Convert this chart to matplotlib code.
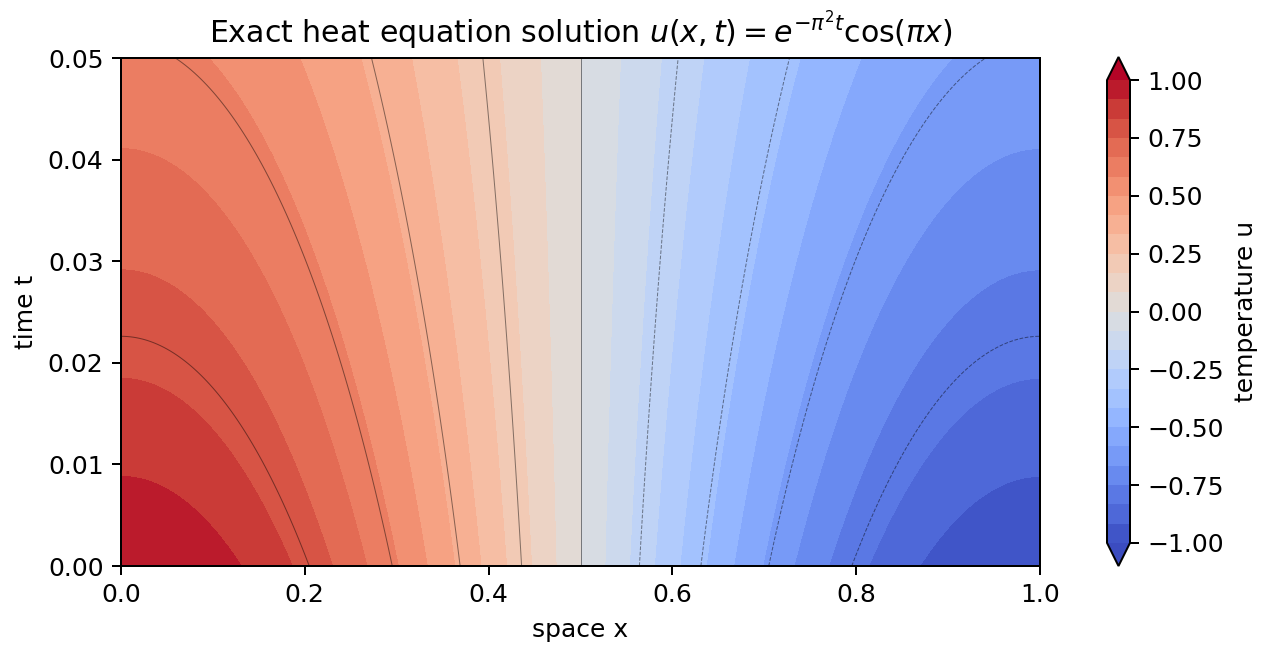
import numpy as np
import matplotlib
matplotlib.use("Agg")
import matplotlib.pyplot as plt

#%% grid and field
x_vals = np.linspace(0.0, 1.0, 301)      # space x
t_vals = np.linspace(0.0, 0.05, 301)     # time t
fill_levels = np.linspace(-1.0, 1.0, 25)
line_levels = np.linspace(-1.0, 1.0, 11)
cbar_ticks = [-1.0, -0.75, -0.5, -0.25, 0.0, 0.25, 0.5, 0.75, 1.0]

X, T = np.meshgrid(x_vals, t_vals)
U = np.exp(-np.pi**2 * T) * np.cos(np.pi * X)

#%% plot
DPI = 180
fig = plt.figure(figsize=(1265/DPI, 646/DPI), dpi=DPI)
ax = fig.add_axes([121/1265, 1-566/646, (1040-121)/1265, (566-58)/646])
cf = ax.contourf(X, T, U, levels=fill_levels, cmap='coolwarm', extend='both')
ax.contour(X, T, U, levels=line_levels, colors='k', linewidths=0.4, alpha=0.45)
ax.set_xlabel('space x')
ax.set_ylabel('time t')
ax.set_title(r'Exact heat equation solution $u(x,t)=e^{-\pi^2 t}\cos(\pi x)$')

cax = fig.add_axes([1107/1265, 1-566/646, 23/1265, (566-57)/646])
cb = fig.colorbar(cf, cax=cax, ticks=cbar_ticks)
cb.set_label('temperature u')

fig.savefig('out.png', dpi=DPI)
